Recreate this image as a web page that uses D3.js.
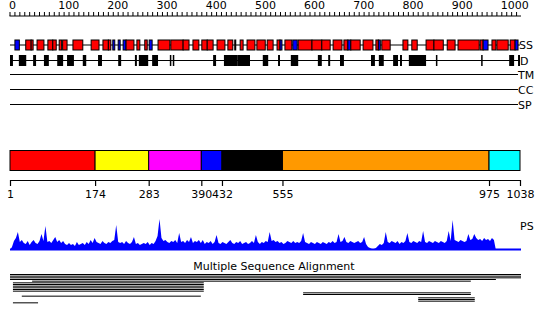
<!DOCTYPE html>
<html><head><meta charset="utf-8">
<script src="https://cdn.jsdelivr.net/npm/d3@7"></script>
<style>body{margin:0;background:#fff}svg{display:block}text{font-family:"DejaVu Sans",sans-serif;font-size:11px}</style>
</head><body><svg id="c" width="550" height="325"></svg>
<script>
const seqLength = 1038;
const topTicks = d3.range(0, 1031, 10);
const topLabels = [0,100,200,300,400,500,600,700,800,900,1000];
// secondary structure: [start, end, type] H = helix (red), E = strand (blue)
const ssElements = [
 [11,20,"E"],[33,44,"H"],[44,48,"H"],[56,70,"H"],[78,88,"H"],[88,95,"H"],[101,106,"H"],[108,117,"H"],
 [129,149,"H"],[166,182,"H"],[190,201,"H"],[201,206,"H"],[210,214,"E"],[221,225,"E"],[231,237,"E"],
 [237,253,"H"],[259,265,"H"],[275,280,"H"],[284,290,"E"],[302,326,"H"],[328,353,"H"],[353,365,"H"],
 [373,385,"H"],[391,402,"H"],[402,414,"H"],[422,438,"H"],[444,454,"H"],[458,460,"H"],[469,475,"H"],
 [483,499,"H"],[503,520,"H"],[524,536,"H"],[544,550,"H"],[550,554,"E"],[560,574,"H"],[576,585,"E"],
 [587,615,"H"],[615,635,"H"],[635,652,"H"],[658,676,"H"],[680,688,"H"],[688,694,"E"],[694,713,"H"],
 [719,739,"H"],[745,750,"H"],[750,754,"E"],[757,774,"H"],[800,810,"H"],[818,829,"H"],[847,863,"H"],
 [863,882,"H"],[890,906,"H"],[912,955,"H"],[957,963,"H"],[963,973,"E"],[981,989,"H"],[991,1014,"H"],
 [1018,1028,"H"],[1028,1034,"E"]
];
// disordered regions: [start, end]
const disorder = [
 [1,7],[19,34],[48,54],[70,80],[97,109],[117,131],[149,156],[180,188],[221,227],[255,259],[263,282],
 [290,302],[326,328],[332,334],[414,420],[436,463],[463,489],[515,526],[546,550],[572,587],[627,635],
 [648,652],[672,680],[735,743],[751,761],[780,790],[794,798],[812,847],[867,870],[959,960],[1016,1026],[1034,1038]
];
const trackNames = ["TM","CC","SP"];
// domains: boundaries and colours
const domainBounds = [1,174,283,390,432,555,975,1038];
const domainColors = ["#ff0000","#ffff00","#ff00ff","#0000ff","#000000","#ff9900","#00ffff"];
// PS score, one value per 4 residues starting at residue 1
const psValues = [
 0,3,9,12,18,8,10,7,6,9,5,8,10,7,6,9,16,9,24,8,
 9,7,10,13,8,10,7,9,6,5,7,5,6,4,8,5,6,7,5,8,
 6,10,7,12,8,7,6,9,7,6,8,7,9,10,25,8,7,8,6,9,
 7,6,8,13,6,7,5,6,7,6,8,5,7,6,9,14,31,12,9,10,
 8,7,9,8,10,7,17,8,9,7,10,8,13,7,9,8,10,7,10,6,
 8,7,9,6,8,15,7,6,8,7,6,8,10,7,6,8,7,9,6,7,
 8,6,7,9,7,15,8,6,8,7,9,8,18,9,10,8,9,7,8,6,
 7,9,8,7,9,7,8,7,9,17,8,7,6,8,7,6,8,7,6,8,
 7,6,8,7,9,7,8,16,8,9,13,8,7,9,8,7,8,9,7,8,
 13,6,3,2,1,1,2,4,6,5,7,18,8,7,9,8,7,9,6,8,
 7,9,17,8,7,9,8,7,9,8,19,8,7,9,8,7,9,8,7,9,
 8,7,9,19,9,30,10,9,8,10,9,8,9,16,10,11,16,12,10,11,
 9,12,10,11,9,12,10,0
];
// multiple sequence alignment hits: [row, start, end]
const msaHits = [
 [0,1,1038],[1,1,1038],[2,1,1038],[3,1,987],[4,46,936],
 [5,7,393],[6,7,393],[7,7,393],[8,7,393],[9,7,393],[10,7,393],
 [11,597,936],[12,597,936],[13,25,387],[14,831,944],[15,831,944],[16,831,944],[17,7,56]
];

const svg = d3.select("#c");
const x = d3.scaleLinear().domain([1, seqLength]).range([10, 520]);

// top ruler
const topAxis = d3.axisTop(x).tickValues(topTicks).tickSize(4).tickSizeOuter(0)
  .tickFormat(d => topLabels.includes(d) ? d : "");
const gt = svg.append("g").attr("transform","translate(0,16)").call(topAxis);
gt.selectAll("text").attr("text-anchor","start").attr("x",-1).attr("font-size",11).attr("font-family","DejaVu Sans");
gt.select(".domain").attr("d", `M${x(0)},0H${x(seqLength)+1}`).attr("stroke","#000");

// SS track
const ssY = 45;
svg.append("line").attr("x1",x(1)).attr("x2",x(seqLength)).attr("y1",ssY).attr("y2",ssY).attr("stroke","#000");
svg.selectAll("rect.ss").data(ssElements).join("rect").attr("class","ss")
  .attr("x",d=>x(d[0])).attr("width",d=>Math.max(1,x(d[1])-x(d[0])))
  .attr("y",ssY-5).attr("height",10)
  .attr("fill",d=>d[2]==="H"?"#ff0000":"#0000ff").attr("stroke","#000").attr("stroke-width",1);
// D track
const dY = 60.5;
svg.append("line").attr("x1",x(1)).attr("x2",x(seqLength)).attr("y1",dY).attr("y2",dY).attr("stroke","#000");
svg.selectAll("rect.dis").data(disorder).join("rect").attr("class","dis")
  .attr("x",d=>x(d[0])).attr("width",d=>Math.max(1.5,x(d[1])-x(d[0])))
  .attr("y",dY-5.5).attr("height",11).attr("fill","#000");
// TM CC SP lines
trackNames.forEach((n,i)=>{
  const yy = 74.5 + i*15;
  svg.append("line").attr("x1",x(1)).attr("x2",518).attr("y1",yy).attr("y2",yy).attr("stroke","#000");
  svg.append("text").attr("x",518).attr("y",yy+4).text(n);
});
svg.append("text").attr("x",519).attr("y",ssY+4).text("SS");
svg.append("text").attr("x",520).attr("y",dY+4).text("D");

// domain bar
const doms = domainColors.map((c,i)=>({s:domainBounds[i],e:domainBounds[i+1],c}));
svg.selectAll("rect.dom").data(doms).join("rect").attr("class","dom")
  .attr("x",d=>x(d.s)).attr("width",d=>x(d.e)-x(d.s)).attr("y",150.5).attr("height",20)
  .attr("fill",d=>d.c).attr("stroke","#000").attr("stroke-width",1);
const botAxis = d3.axisBottom(x).tickValues(domainBounds).tickSize(6).tickSizeOuter(0).tickFormat(d3.format("d"));
const gb = svg.append("g").attr("transform","translate(0,180)").call(botAxis);
gb.selectAll("text").attr("font-size",11).attr("font-family","DejaVu Sans").attr("y",10);
gb.selectAll("line,path").attr("stroke","#000").attr("stroke-width",1.2);

// PS
const ps = d3.scaleLinear().domain([0,31]).range([250,219]);
const psData = psValues.map((v,i)=>({r:1+4*i,v}));
svg.append("path").datum(psData)
  .attr("d", d3.area().x(d=>x(d.r)).y0(ps(0)).y1(d=>ps(d.v)))
  .attr("fill","#0000ff");
svg.append("line").attr("x1",x(1)).attr("x2",x(seqLength)+1).attr("y1",249.5).attr("y2",249.5)
  .attr("stroke","#0000ff").attr("stroke-width",2);
svg.append("text").attr("x",520).attr("y",230).text("PS");

// MSA
svg.append("text").attr("x",274).attr("y",270).attr("text-anchor","middle").text("Multiple Sequence Alignment");
svg.selectAll("line.msa").data(msaHits).join("line").attr("class","msa")
  .attr("x1",d=>x(d[1])).attr("x2",d=>x(d[2])+1)
  .attr("y1",d=>274.5+d[0]*5/3).attr("y2",d=>274.5+d[0]*5/3)
  .attr("stroke","#000").attr("stroke-width",1);
</script></body></html>
